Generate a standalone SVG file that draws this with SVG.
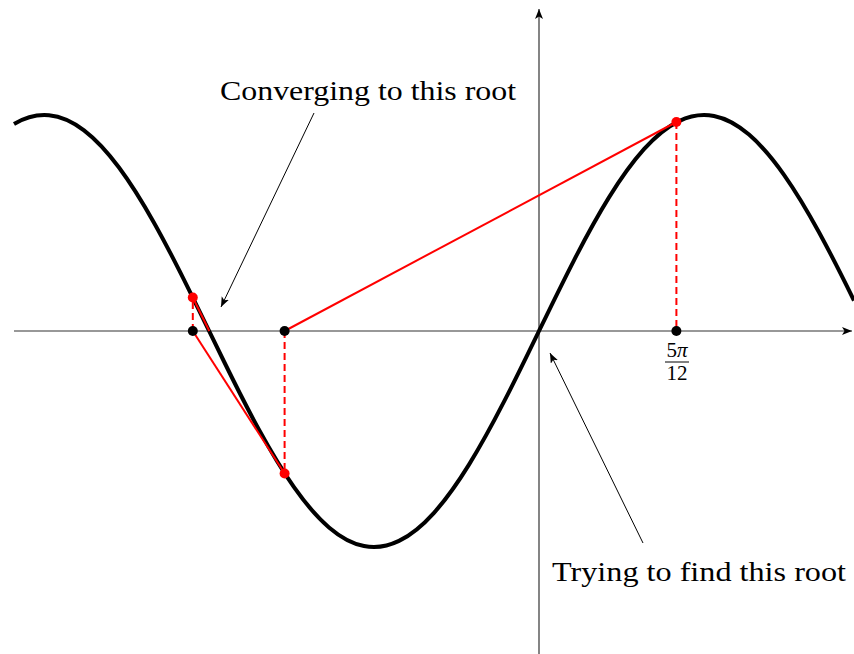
<svg xmlns="http://www.w3.org/2000/svg" width="854" height="654" viewBox="0 0 854 654">
<style>
.axis{stroke:#333;stroke-width:1.2;fill:none}
.curve{stroke:#000;stroke-width:4;fill:none;stroke-linejoin:round}
.tan{stroke:#f00;stroke-width:2;fill:none}
.dash{stroke:#f00;stroke-width:2;fill:none;stroke-dasharray:7 4}
.ann{stroke:#000;stroke-width:1;fill:none}
.lbl{font-family:"Liberation Serif","DejaVu Serif",serif;fill:#000}
</style>
<defs>
<marker id="ah" markerUnits="userSpaceOnUse" markerWidth="12" markerHeight="10" refX="10" refY="4" orient="auto">
<path d="M0,0 L10,4 L0,8 L2.5,4 Z" fill="#000"/>
</marker>
</defs>
<rect width="854" height="654" fill="#fff"/>
<g id="axes">
<line class="axis" x1="14" y1="331" x2="852" y2="331" marker-end="url(#ah)"/>
<line class="axis" x1="539" y1="654" x2="539" y2="9" marker-end="url(#ah)"/>
</g>
<g id="curve">
<path class="curve" d="M14,123.9 C25.67,117.09 37.33,114.1 49,115.2 C60.67,116.3 72.33,121.42 84,130.3 C95.67,139.19 107.33,151.81 119,167.5 C130.67,183.19 142.33,201.93 154,222.7 C165.67,243.47 177.33,266.24 189,289.8 C200.67,313.36 212.33,337.74 224,361.5 C235.67,385.26 247.33,408.46 259,429.8 C270.67,451.14 282.33,470.62 294,487.2 C305.67,503.78 317.33,517.41 329,527.4 C340.67,537.39 352.33,543.7 364,546 C375.67,548.3 387.33,546.54 399,540.9 C410.67,535.26 422.33,525.77 434,512.8 C445.67,499.83 457.33,483.46 469,464.6 C480.67,445.74 492.33,424.38 504,401.7 C515.67,379.02 527.33,355 539,331 C550.67,307 562.33,282.98 574,260.3 C585.67,237.62 597.33,216.26 609,197.4 C620.67,178.54 632.33,162.17 644,149.2 C655.67,136.23 667.33,126.74 679,121.1 C690.67,115.46 702.33,113.7 714,116 C725.67,118.3 737.33,124.61 749,134.6 C760.67,144.59 772.33,158.22 784,174.8 C795.67,191.38 807.33,210.86 819,232.2 C830.67,253.54 842.33,276.74 854,300.5"/>
</g>
<g id="connectors">
<line class="tan" x1="676.4" y1="122" x2="284.6" y2="331"/>
<line class="dash" x1="676.4" y1="122" x2="676.4" y2="331"/>
<line class="dash" x1="284.6" y1="331" x2="284.6" y2="473.5"/>
<line class="tan" x1="284.6" y1="473.5" x2="192.8" y2="331"/>
<line class="dash" x1="192.8" y1="331" x2="192.8" y2="297.5"/>
<line class="tan" x1="192.8" y1="297.5" x2="209.3" y2="331"/>
<line class="ann" x1="314" y1="113" x2="221" y2="307" marker-end="url(#ah)"/>
<line class="ann" x1="643" y1="543" x2="550" y2="353" marker-end="url(#ah)"/>
</g>
<g id="points">
<circle cx="192.8" cy="331" r="5" fill="#000"/>
<circle cx="284.6" cy="331" r="5" fill="#000"/>
<circle cx="676.4" cy="331" r="5" fill="#000"/>
<circle cx="676.4" cy="122" r="5" fill="#f00"/>
<circle cx="284.6" cy="473.5" r="5" fill="#f00"/>
<circle cx="192.8" cy="297.5" r="5" fill="#f00"/>
</g>
<g id="label-converging">
<text class="lbl" x="220" y="100" font-size="28" textLength="296" lengthAdjust="spacingAndGlyphs">Converging to this root</text>
</g>
<g id="label-trying">
<text class="lbl" x="552" y="581" font-size="28" textLength="294" lengthAdjust="spacingAndGlyphs">Trying to find this root</text>
</g>
<g id="tick-label">
<text class="lbl" x="677" y="357" font-size="21" text-anchor="middle">5<tspan font-style="italic">π</tspan></text>
<line x1="665" y1="362" x2="689" y2="362" stroke="#000" stroke-width="1"/>
<text class="lbl" x="677" y="380" font-size="21" text-anchor="middle">12</text>
</g>
</svg>
